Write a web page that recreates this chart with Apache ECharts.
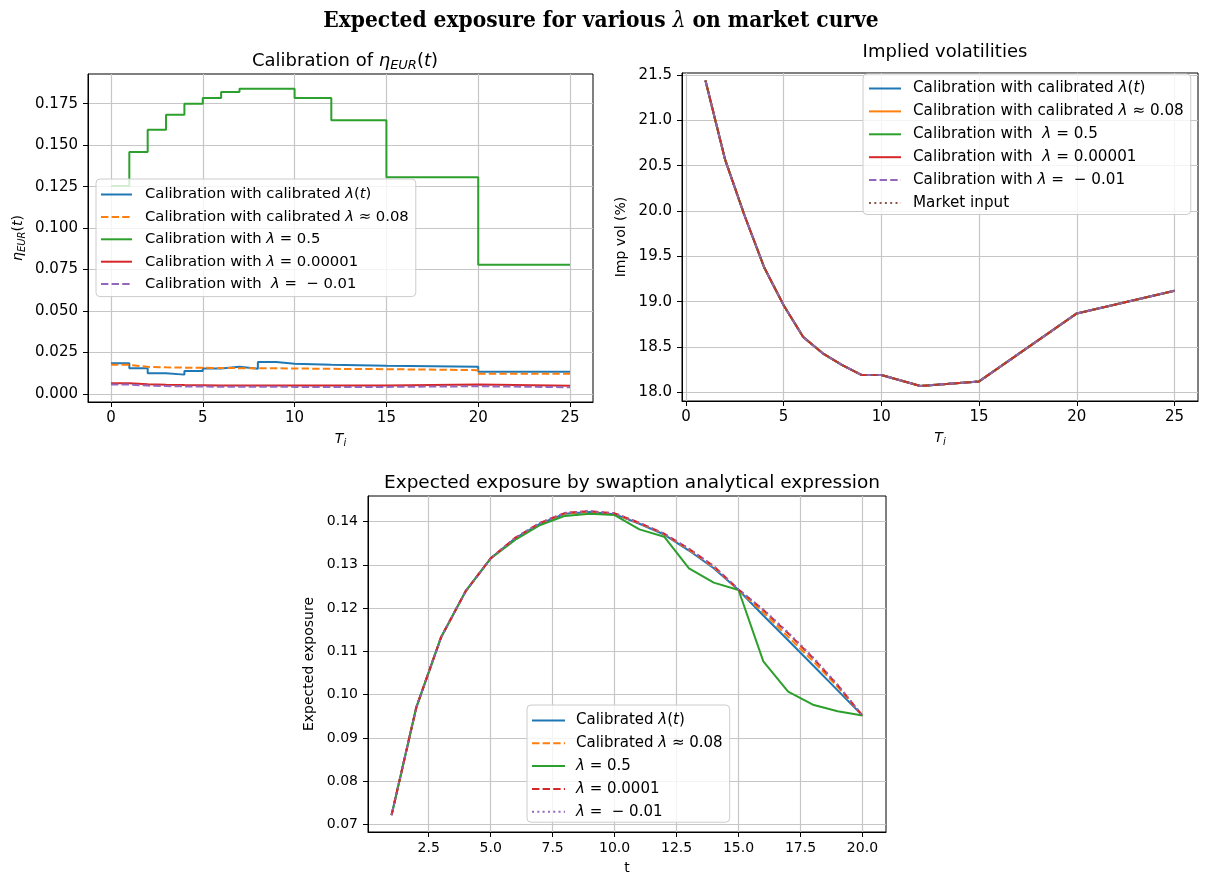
<!DOCTYPE html>
<html>
<head>
<meta charset="utf-8">
<script src="https://cdn.jsdelivr.net/npm/echarts@6/dist/echarts.min.js"></script>
<style>
  html, body { margin: 0; padding: 0; background: #fff; }
  #chart { width: 1205px; height: 877px; }
</style>
</head>
<body>
<div id="chart"></div>
<script>
// ---------- Calibration of eta_EUR(t): piecewise-constant on the expiry grid ----------
const ETA_T = [0, 1, 2, 3, 4, 5, 6, 7, 8, 9, 10, 12, 15, 20, 25];
const ETA_LAMBDA_T   = [0.0185, 0.0155, 0.0125, 0.0117, 0.0139, 0.0154, 0.0165, 0.0153, 0.0193, 0.0183, 0.0176, 0.0171, 0.0164, 0.0135, 0.0135];
const ETA_LAMBDA_008 = [0.0176, 0.0164, 0.0161, 0.0159, 0.0158, 0.0157, 0.0156, 0.0155, 0.0155, 0.0154, 0.0152, 0.0150, 0.0144, 0.0122, 0.0122];
const ETA_LAMBDA_05  = [0.1254, 0.1459, 0.1593, 0.1684, 0.1750, 0.1784, 0.1820, 0.1840, 0.1840, 0.1840, 0.1784, 0.1650, 0.1306, 0.0779, 0.0779];
const ETA_LAMBDA_0   = [0.0065, 0.0059, 0.0056, 0.0054, 0.0053, 0.0052, 0.0052, 0.0052, 0.0051, 0.0051, 0.0051, 0.0051, 0.0057, 0.0050, 0.0050];
const ETA_LAMBDA_NEG = [0.0057, 0.0051, 0.0048, 0.0046, 0.0045, 0.0044, 0.0044, 0.0044, 0.0044, 0.0043, 0.0043, 0.0043, 0.0047, 0.0041, 0.0041];

// ---------- Implied volatilities (%) ----------
const VOL_T = [1, 2, 3, 4, 5, 6, 7, 8, 9, 10, 12, 15, 20, 25];
const VOL_MARKET     = [21.44, 20.57, 19.95, 19.38, 18.96, 18.61, 18.43, 18.30, 18.19, 18.19, 18.07, 18.12, 18.87, 19.12];
const VOL_CALIBRATED = [21.44, 20.57, 19.95, 19.38, 18.96, 18.61, 18.43, 18.30, 18.19, 18.19, 18.07, 18.12, 18.87, 19.12];

// ---------- Expected exposure ----------
const EE_T = [1, 2, 3, 4, 5, 6, 7, 8, 9, 10, 11, 12, 13, 14, 15, 16, 17, 18, 19, 20];
const EE_LAMBDA_T   = [0.0722, 0.0971, 0.1133, 0.1240, 0.1315, 0.1362, 0.1395, 0.1418, 0.1422, 0.1417, 0.1395, 0.1370, 0.1333, 0.1292, 0.1242, 0.1183, 0.1126, 0.1068, 0.1010, 0.0952];
const EE_LAMBDA_008 = [0.0722, 0.0971, 0.1133, 0.1240, 0.1315, 0.1362, 0.1396, 0.1419, 0.1423, 0.1418, 0.1396, 0.1371, 0.1335, 0.1295, 0.1242, 0.1190, 0.1134, 0.1078, 0.1018, 0.0952];
const EE_LAMBDA_05  = [0.0722, 0.0971, 0.1133, 0.1240, 0.1315, 0.1358, 0.1392, 0.1413, 0.1418, 0.1415, 0.1382, 0.1365, 0.1292, 0.1259, 0.1242, 0.1077, 0.1007, 0.0977, 0.0962, 0.0952];
const EE_LAMBDA_0   = [0.0722, 0.0971, 0.1133, 0.1240, 0.1315, 0.1363, 0.1397, 0.1420, 0.1424, 0.1419, 0.1397, 0.1372, 0.1337, 0.1297, 0.1243, 0.1196, 0.1142, 0.1085, 0.1022, 0.0952];
const EE_LAMBDA_NEG = [0.0722, 0.0971, 0.1133, 0.1240, 0.1315, 0.1363, 0.1397, 0.1420, 0.1424, 0.1419, 0.1397, 0.1372, 0.1337, 0.1297, 0.1243, 0.1197, 0.1144, 0.1087, 0.1023, 0.0952];

// ---------- tick values ----------
const ETA_X_TICKS = [0, 5, 10, 15, 20, 25];
const ETA_Y_TICKS = [0, 0.025, 0.05, 0.075, 0.1, 0.125, 0.15, 0.175];
const VOL_X_TICKS = [0, 5, 10, 15, 20, 25];
const VOL_Y_TICKS = [18.0, 18.5, 19.0, 19.5, 20.0, 20.5, 21.0, 21.5];
const EE_X_TICKS = [2.5, 5, 7.5, 10, 12.5, 15, 17.5, 20];
const EE_Y_TICKS = [0.07, 0.08, 0.09, 0.10, 0.11, 0.12, 0.13, 0.14];

// ---------- legend texts (rich markup: m = math italic) ----------
const ETA_LABELS = [
  'Calibration with calibrated {m|λ}({m|t})',
  'Calibration with calibrated {m|λ} ≈ 0.08',
  'Calibration with {m|λ} = 0.5',
  'Calibration with {m|λ} = 0.00001',
  'Calibration with  {m|λ} =  − 0.01'
];
const VOL_LABELS = [
  'Calibration with calibrated {m|λ}({m|t})',
  'Calibration with calibrated {m|λ} ≈ 0.08',
  'Calibration with  {m|λ} = 0.5',
  'Calibration with  {m|λ} = 0.00001',
  'Calibration with {m|λ} =  − 0.01',
  'Market input'
];
const EE_LABELS = [
  'Calibrated {m|λ}({m|t})',
  'Calibrated {m|λ} ≈ 0.08',
  '{m|λ} = 0.5',
  '{m|λ} = 0.0001',
  '{m|λ} =  − 0.01'
];

const FONT = 'DejaVu Sans';
const C = { blue: '#1f77b4', orange: '#ff7f0e', green: '#2ca02c', red: '#d62728', purple: '#9467bd', brown: '#8c564b' };
const DASH = [7.4, 3.2];
const DOT = [2, 3.3];
const GRID_LINE = '#c6c6c6';

function mathRich(size) {
  return {
    m: { fontFamily: FONT, fontStyle: 'italic', fontSize: size, color: '#000' },
    s: { fontFamily: FONT, fontStyle: 'italic', fontSize: Math.round(size * 0.72), color: '#000', padding: [Math.round(size * 0.5), 0, 0, 0] }
  };
}

function zip(xs, ys) { return xs.map((x, i) => [x, ys[i]]); }

function valueAxis(gridIndex, min, max, ticks, decimals, name, nameGap, isY, tickFont) {
  return {
    type: 'value', gridIndex, min, max,
    name, nameLocation: 'middle', nameGap,
    nameRotate: isY ? 90 : 0,
    nameTextStyle: { fontFamily: FONT, fontSize: 14, color: '#000', rich: mathRich(14) },
    axisLine: { show: true, onZero: false, lineStyle: { color: '#000', width: 1 } },
    axisTick: { show: true, inside: false, length: 5, customValues: ticks, lineStyle: { color: '#000', width: 1 } },
    axisLabel: {
      show: true, margin: isY ? 10 : 9, customValues: ticks,
      fontFamily: FONT, fontSize: tickFont, color: '#000',
      formatter: v => v.toFixed(decimals)
    },
    splitLine: { show: true, customValues: ticks, lineStyle: { color: GRID_LINE, width: 1.2 } }
  };
}

function line(name, axisIndex, xs, ys, color, dash, step) {
  return {
    type: 'line', name, xAxisIndex: axisIndex, yAxisIndex: axisIndex,
    data: zip(xs, ys), symbol: 'none', step: step || false, silent: true,
    lineStyle: { color, width: 2, type: dash || 'solid' },
    itemStyle: { color }
  };
}

function legendFor(names, labels, box) {
  const map = {};
  names.forEach((n, i) => { map[n] = labels[i]; });
  return {
    data: names, orient: 'vertical', left: box.left, top: box.top,
    selectedMode: false,
    itemWidth: box.lineLen, itemHeight: 14, itemGap: box.gap,
    padding: [box.padTop, 7, box.padBottom, box.padLeft],
    backgroundColor: 'rgba(255,255,255,0.8)',
    borderColor: '#cccccc', borderWidth: 1, borderRadius: 4,
    itemStyle: { opacity: 0 },
    formatter: n => map[n],
    textStyle: { fontFamily: FONT, fontSize: box.font, color: '#000', padding: [0, 0, 0, box.textPad], rich: mathRich(box.font) }
  };
}

const etaNames = ['eta λ(t)', 'eta λ≈0.08', 'eta λ=0.5', 'eta λ=0.00001', 'eta λ=-0.01'];
const volNames = ['vol λ(t)', 'vol λ≈0.08', 'vol λ=0.5', 'vol λ=0.00001', 'vol λ=-0.01', 'vol market'];
const eeNames  = ['ee λ(t)', 'ee λ≈0.08', 'ee λ=0.5', 'ee λ=0.0001', 'ee λ=-0.01'];

const subTitle = (text, x, top, size) => ({
  text, left: x, top, textAlign: 'center',
  textStyle: { fontFamily: FONT, fontSize: size, fontWeight: 'normal', color: '#000', lineHeight: Math.round(size * 1.3),
    rich: mathRich(size) }
});

const option = {
  animation: false,
  backgroundColor: '#fff',
  title: [
    {
      text: 'Expected exposure for various {m|λ} on market curve',
      left: 596, top: 5, textAlign: 'center',
      textStyle: {
        fontFamily: 'DejaVu Serif Condensed', fontSize: 22.5, fontWeight: 'bold', color: '#000',
        rich: { m: { fontFamily: 'DejaVu Serif Condensed', fontStyle: 'italic', fontWeight: 'normal', fontSize: 22.5, color: '#000' } }
      }
    },
    subTitle('Calibration of {m|η}{s|EUR}({m|t})', 340, 45, 18),
    subTitle('Implied volatilities', 940, 36, 18),
    subTitle('Expected exposure by swaption analytical expression', 627, 466, 18.5)
  ],
  grid: [
    { left: 88, top: 74, width: 505, height: 328, show: true, borderColor: '#000', borderWidth: 1, backgroundColor: 'transparent' },
    { left: 682, top: 73, width: 516, height: 328, show: true, borderColor: '#000', borderWidth: 1, backgroundColor: 'transparent' },
    { left: 368, top: 496, width: 518, height: 336, show: true, borderColor: '#000', borderWidth: 1, backgroundColor: 'transparent' }
  ],
  xAxis: [
    valueAxis(0, -1.25, 26.25, ETA_X_TICKS, 0, '{m|T}{s|i}', 29, false, 15),
    valueAxis(1, -0.2, 26.2, VOL_X_TICKS, 0, '{m|T}{s|i}', 29, false, 15),
    valueAxis(2, 0.05, 20.95, EE_X_TICKS, 1, 't', 29, false, 14)
  ],
  yAxis: [
    valueAxis(0, -0.0048, 0.1929, ETA_Y_TICKS, 3, '{m|η}{s|EUR}({m|t})', 61, true, 15),
    valueAxis(1, 17.904, 21.522, VOL_Y_TICKS, 1, 'Imp vol (%)', 54, true, 15),
    valueAxis(2, 0.0683, 0.1459, EE_Y_TICKS, 2, 'Expected exposure', 52, true, 14)
  ],
  legend: [
    legendFor(etaNames, ETA_LABELS, { left: 96, top: 179, font: 14.8, padTop: 8, padBottom: 5, padLeft: 4, gap: 7.4, lineLen: 31, textPad: 8 }),
    legendFor(volNames, VOL_LABELS, { left: 863, top: 74, font: 15.2, padTop: 7, padBottom: 4, padLeft: 5, gap: 7.9, lineLen: 32, textPad: 7 }),
    legendFor(eeNames, EE_LABELS, { left: 527, top: 705, font: 15, padTop: 8, padBottom: 3, padLeft: 4, gap: 7.8, lineLen: 33, textPad: 6 })
  ],
  series: [
    line(etaNames[0], 0, ETA_T, ETA_LAMBDA_T, C.blue, 'solid', 'end'),
    line(etaNames[1], 0, ETA_T, ETA_LAMBDA_008, C.orange, DASH, 'end'),
    line(etaNames[2], 0, ETA_T, ETA_LAMBDA_05, C.green, 'solid', 'end'),
    line(etaNames[3], 0, ETA_T, ETA_LAMBDA_0, C.red, 'solid', 'end'),
    line(etaNames[4], 0, ETA_T, ETA_LAMBDA_NEG, C.purple, DASH, 'end'),

    line(volNames[0], 1, VOL_T, VOL_CALIBRATED, C.blue),
    line(volNames[1], 1, VOL_T, VOL_CALIBRATED, C.orange),
    line(volNames[2], 1, VOL_T, VOL_CALIBRATED, C.green),
    line(volNames[3], 1, VOL_T, VOL_CALIBRATED, C.red),
    line(volNames[4], 1, VOL_T, VOL_CALIBRATED, C.purple, DASH),
    line(volNames[5], 1, VOL_T, VOL_MARKET, C.brown, DOT),

    line(eeNames[0], 2, EE_T, EE_LAMBDA_T, C.blue),
    line(eeNames[1], 2, EE_T, EE_LAMBDA_008, C.orange, DASH),
    line(eeNames[2], 2, EE_T, EE_LAMBDA_05, C.green),
    line(eeNames[3], 2, EE_T, EE_LAMBDA_0, C.red, DASH),
    line(eeNames[4], 2, EE_T, EE_LAMBDA_NEG, C.purple, DOT)
  ]
};

const chart = echarts.init(document.getElementById('chart'), null, { renderer: 'canvas' });
chart.setOption(option);
</script>
</body>
</html>
